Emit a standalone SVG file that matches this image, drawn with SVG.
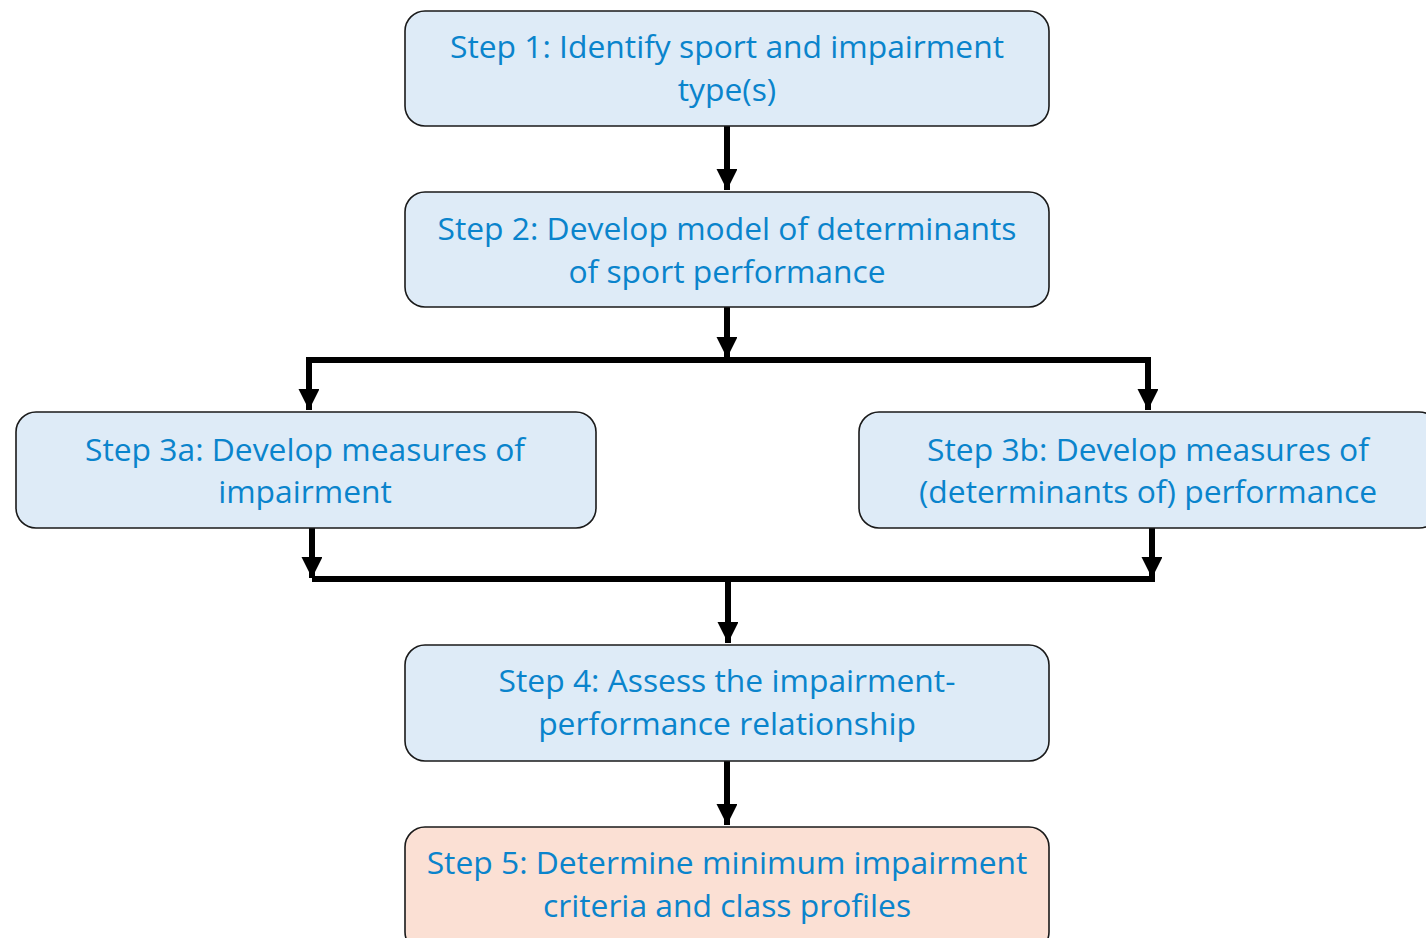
<svg xmlns="http://www.w3.org/2000/svg" width="1426" height="938" viewBox="0 0 1426 938">
<style>
.box{fill:#DEEBF7;stroke:#1a1a1a;stroke-width:1.6}
.box5{fill:#FBE0D4;stroke:#1a1a1a;stroke-width:1.6}
text{font-family:"Open Sans","Liberation Sans",sans-serif;font-size:31.8px;fill:#0A84CC;text-anchor:middle}
.ln{stroke:#000;stroke-width:6;fill:none}
</style>
<defs>
<marker id="ah" viewBox="0 0 20 21" refX="20" refY="10" markerWidth="21" markerHeight="22" markerUnits="userSpaceOnUse" orient="auto">
<path d="M0,0 L20,10 L0,20 Z" fill="#000"/>
</marker>
</defs>
<rect width="1426" height="938" fill="#fff"/>
<g id="connectors">
<line class="ln" x1="727" y1="126" x2="727" y2="190" marker-end="url(#ah)"/>
<line class="ln" x1="727" y1="307" x2="727" y2="358" marker-end="url(#ah)"/>
<polyline class="ln" points="309,400 309,360 1148,360 1148,400" style="stroke-linejoin:miter"/>
<line class="ln" x1="309" y1="380" x2="309" y2="410" marker-end="url(#ah)"/>
<line class="ln" x1="1148" y1="380" x2="1148" y2="410" marker-end="url(#ah)"/>
<line class="ln" x1="312" y1="528" x2="312" y2="578" marker-end="url(#ah)"/>
<line class="ln" x1="1152" y1="528" x2="1152" y2="578" marker-end="url(#ah)"/>
<line class="ln" x1="312" y1="579" x2="1155" y2="579"/>
<line class="ln" x1="728" y1="579" x2="728" y2="643" marker-end="url(#ah)"/>
<line class="ln" x1="727" y1="761" x2="727" y2="825" marker-end="url(#ah)"/>
</g>
<g id="step1">
<rect class="box" x="405" y="11" width="644" height="115" rx="20"/>
<text x="727" y="58">Step 1: Identify sport and impairment</text>
<text x="727" y="101">type(s)</text>
</g>
<g id="step2">
<rect class="box" x="405" y="192" width="644" height="115" rx="20"/>
<text x="727" y="240">Step 2: Develop model of determinants</text>
<text x="727" y="283">of sport performance</text>
</g>
<g id="step3a">
<rect class="box" x="16" y="412" width="580" height="116" rx="20"/>
<text x="305" y="461">Step 3a: Develop measures of</text>
<text x="305" y="503">impairment</text>
</g>
<g id="step3b">
<rect class="box" x="859" y="412" width="580" height="116" rx="20"/>
<text x="1148" y="461">Step 3b: Develop measures of</text>
<text x="1148" y="503">(determinants of) performance</text>
</g>
<g id="step4">
<rect class="box" x="405" y="645" width="644" height="116" rx="20"/>
<text x="727" y="692">Step 4: Assess the impairment-</text>
<text x="727" y="735">performance relationship</text>
</g>
<g id="step5">
<rect class="box5" x="405" y="827" width="644" height="125" rx="20"/>
<text x="727" y="874">Step 5: Determine minimum impairment</text>
<text x="727" y="917">criteria and class profiles</text>
</g>
</svg>
